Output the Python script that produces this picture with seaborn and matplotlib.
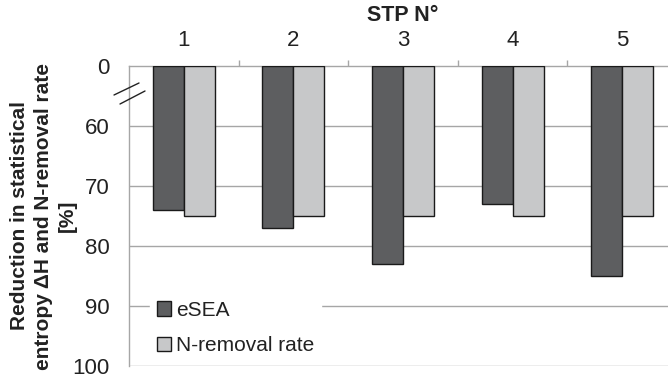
import matplotlib
matplotlib.use("Agg")
import matplotlib.pyplot as plt
from matplotlib.lines import Line2D
import seaborn as sns
import pandas as pd
import numpy as np

# ---- data ----
stp = ["1", "2", "3", "4", "5"]
esea = [74, 77, 83, 73, 85]
n_removal = [75, 75, 75, 75, 75]
series_names = ["eSEA", "N-removal rate"]
ytick_labels = ["0", "60", "70", "80", "90", "100"]
axis_break_base = 50  # values shown relative to the broken axis start

sns.set_theme(style="white")
plt.rcParams["font.family"] = ["Liberation Sans", "DejaVu Sans"]

df = pd.DataFrame({
    "STP": stp * 2,
    "series": [series_names[0]] * len(stp) + [series_names[1]] * len(stp),
    "value": esea + n_removal,
})
df["h"] = df["value"] - axis_break_base

fig = plt.figure(figsize=(6.68, 3.80), dpi=100)
W, H = 668, 380
ax = fig.add_axes([129 / W, 1 - 366 / H, (677 - 129) / W, 300 / H])

sns.barplot(data=df, x="STP", y="h", hue="series",
            palette=["#5d5e60", "#c7c8c9"], saturation=1,
            width=0.566, gap=0, edgecolor="#1a1a1a", linewidth=1.0,
            ax=ax, zorder=3)

ax.set_ylim(50, 0)
ax.set_xlim(-0.5, 4.5)

gridc = "#a6a6a6"
txtc = "#222222"
yt = [0, 10, 20, 30, 40, 50]
ax.set_yticks(yt)
ax.set_yticklabels(ytick_labels, fontsize=16, color=txtc)
ax.set_yticks([15, 25, 35, 45], minor=True)
for y in yt[1:]:
    ax.axhline(y, color=gridc, lw=1.0, zorder=6 if y == yt[-1] else 1)
ax.tick_params(axis="y", which="major", direction="out", length=7, width=1,
               color=gridc, pad=7)
ax.tick_params(axis="y", which="minor", direction="out", length=5, width=1,
               color=gridc)

ax.xaxis.tick_top()
ax.xaxis.set_label_position("top")
ax.set_xticks(range(len(stp)))
ax.set_xticklabels(stp, fontsize=16, color=txtc)
ax.set_xticks([0.5, 1.5, 2.5, 3.5], minor=True)
ax.tick_params(axis="x", which="major", length=0, pad=11)
ax.tick_params(axis="x", which="minor", direction="out", length=4, width=1,
               color=gridc, top=True, bottom=False)
ax.set_xlabel("STP N°", fontsize=15.5, fontweight="bold", labelpad=6,
              color=txtc)
ax.set_ylabel("Reduction in statistical\nentropy ΔH and N-removal rate\n[%]",
              fontsize=15, fontweight="bold", linespacing=1.3,
              color=txtc)
ax.yaxis.set_label_coords(-0.096, 0.5)

for s in ["right", "bottom"]:
    ax.spines[s].set_visible(False)
for s in ["left", "top"]:
    ax.spines[s].set_color(gridc)
    ax.spines[s].set_linewidth(1.0)

leg = ax.legend(loc="lower left", bbox_to_anchor=(0.02, -0.02), frameon=True,
                fontsize=15, handlelength=0.7, handleheight=0.7,
                handletextpad=0.25, labelspacing=0.8, borderpad=0.3,
                fancybox=False)
leg.get_frame().set_facecolor("white")
leg.get_frame().set_edgecolor("white")
leg.get_frame().set_alpha(1)
leg.set_zorder(5)
for t in leg.get_texts():
    t.set_color(txtc)

# axis break marks
for (x0, y0, x1, y1) in [(114, 95, 139, 83), (120, 104, 145, 91)]:
    fig.add_artist(Line2D([x0 / W, x1 / W], [1 - y0 / H, 1 - y1 / H],
                          color=txtc, lw=1.0))

fig.savefig("out.png", dpi=100)
